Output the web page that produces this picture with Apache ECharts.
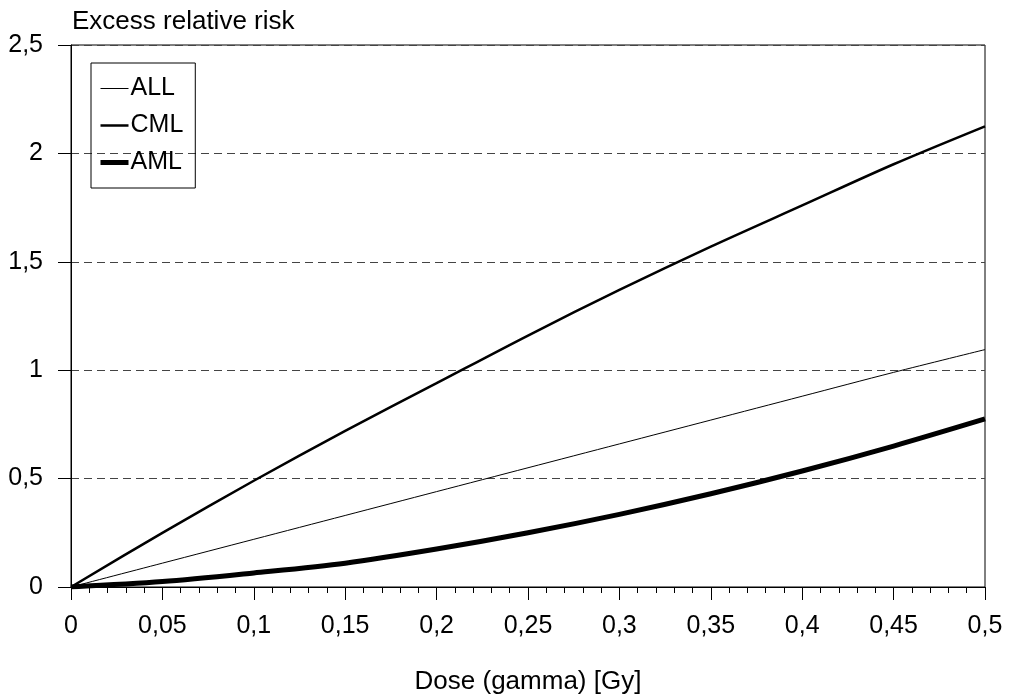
<!DOCTYPE html>
<html>
<head>
<meta charset="utf-8">
<script src="https://cdn.jsdelivr.net/npm/echarts@6/dist/echarts.min.js"></script>
<style>
  html, body { margin: 0; padding: 0; background: #fff; }
  #chart { width: 1010px; height: 700px; }
</style>
</head>
<body>
<div id="chart"></div>
<script>
// dose values (Gy)
const doses = [0, 0.05, 0.1, 0.15, 0.2, 0.25, 0.3, 0.35, 0.4, 0.45, 0.5];
// excess relative risk per leukaemia type
const allRisk = [0, 0.11, 0.22, 0.33, 0.44, 0.55, 0.66, 0.77, 0.88, 0.99, 1.095];
const cmlRisk = [0, 0.25, 0.49, 0.72, 0.94, 1.16, 1.37, 1.57, 1.76, 1.95, 2.125];
const amlRisk = [0, 0.025, 0.065, 0.11, 0.175, 0.25, 0.335, 0.43, 0.535, 0.65, 0.775];

const font = 'Liberation Sans, Arial, Helvetica, sans-serif';
const fs = 25;
const comma = v => String(v).replace('.', ',');
const pairs = arr => doses.map((d, i) => [d, arr[i]]);

const chart = echarts.init(document.getElementById('chart'));

chart.setOption({
  animation: false,
  backgroundColor: '#fff',
  textStyle: { fontFamily: font, color: '#000' },
  grid: {
    left: 71, right: 25, top: 45, bottom: 113,
    outerBoundsMode: 'none',
    show: true, borderColor: '#000', borderWidth: 1
  },
  legend: {
    orient: 'vertical',
    left: 91, top: 63,
    borderColor: '#000', borderWidth: 1,
    padding: [13, 12, 13, 7],
    itemWidth: 28, itemHeight: 14, itemGap: 12,
    itemStyle: { opacity: 0 },
    textStyle: { fontFamily: font, fontSize: fs, color: '#000', padding: [0, 0, 0, -3] },
    data: [
      { name: 'ALL', lineStyle: { width: 1 } },
      { name: 'CML', lineStyle: { width: 2.5 } },
      { name: 'AML', lineStyle: { width: 5 } }
    ]
  },
  xAxis: {
    type: 'value',
    min: 0, max: 0.5, interval: 0.05,
    name: 'Dose (gamma) [Gy]',
    nameLocation: 'middle',
    nameGap: 82,
    nameTextStyle: { fontFamily: font, fontSize: 26, color: '#000' },
    axisLine: { lineStyle: { color: '#000', width: 1 } },
    axisTick: { length: 13, lineStyle: { color: '#000' } },
    minorTick: { show: true, splitNumber: 5, length: 6, lineStyle: { color: '#000' } },
    splitLine: { show: false },
    axisLabel: { margin: 27, fontSize: fs, color: '#000', fontFamily: font, formatter: comma }
  },
  yAxis: {
    type: 'value',
    min: 0, max: 2.5, interval: 0.5,
    name: 'Excess relative risk',
    nameLocation: 'end',
    nameGap: 10,
    nameTextStyle: { fontFamily: font, fontSize: 26, color: '#000', align: 'left', padding: [0, 0, 0, 1] },
    axisLine: { show: true, lineStyle: { color: '#000', width: 1 } },
    axisTick: { show: true, length: 13, lineStyle: { color: '#000' } },
    splitLine: { show: true, lineStyle: { color: '#444', width: 1, type: [8, 5] } },
    axisLabel: { margin: 28, fontSize: fs, color: '#000', fontFamily: font, formatter: comma }
  },
  series: [
    {
      name: 'ALL', type: 'line', data: pairs(allRisk),
      symbol: 'none', smooth: 0.3,
      lineStyle: { color: '#000', width: 1 }, itemStyle: { color: '#000' }
    },
    {
      name: 'CML', type: 'line', data: pairs(cmlRisk),
      symbol: 'none', smooth: 0.3,
      lineStyle: { color: '#000', width: 2.5 }, itemStyle: { color: '#000' }
    },
    {
      name: 'AML', type: 'line', data: pairs(amlRisk),
      symbol: 'none', smooth: 0.3,
      lineStyle: { color: '#000', width: 5 }, itemStyle: { color: '#000' }
    }
  ]
});

window.addEventListener('resize', () => chart.resize());
</script>
</body>
</html>
